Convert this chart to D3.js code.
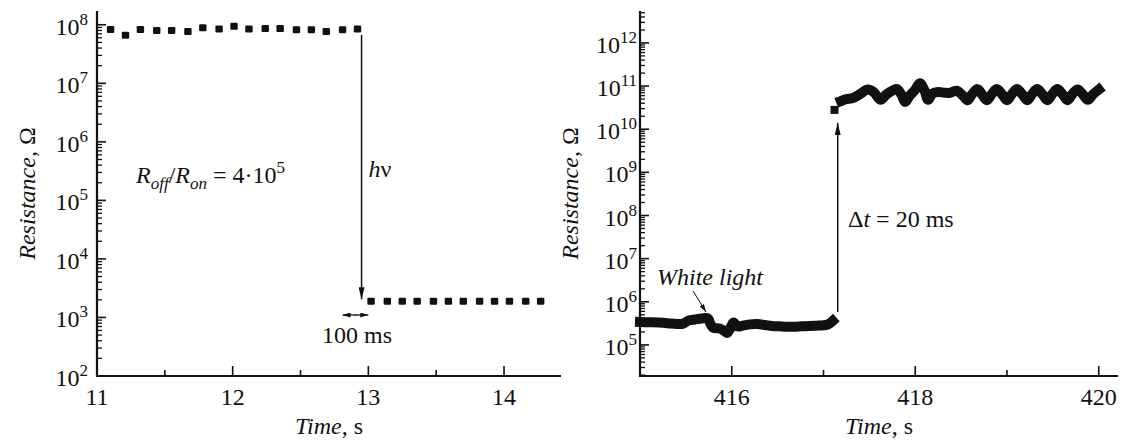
<!DOCTYPE html>
<html>
<head>
<meta charset="utf-8">
<script src="https://cdn.jsdelivr.net/npm/d3@7"></script>
<style>
  body { margin: 0; background: #fff; }
</style>
</head>
<body>
<svg id="canvas" width="1127" height="444"></svg>
<script>
// left panel: light on, resistance drops
let leftUpperT=[11.10,11.21,11.32,11.44,11.55,11.67,11.78,11.90,12.01,12.12,12.24,12.35,12.47,12.58,12.69,12.81,12.92]
let leftUpperR=[8.3e7,6.6e7,8.3e7,8.0e7,8.0e7,7.7e7,8.9e7,8.5e7,9.4e7,8.5e7,8.6e7,8.6e7,8.2e7,8.2e7,7.7e7,8.2e7,8.5e7]
let leftLowerT=[13.02,13.14,13.25,13.36,13.48,13.59,13.70,13.82,13.93,14.04,14.16,14.27]
let leftLowerR=[1.9e3,1.9e3,1.9e3,1.9e3,1.9e3,1.9e3,1.9e3,1.9e3,1.9e3,1.9e3,1.9e3,1.9e3]
let leftXTicks=[11,12,13,14]
let leftXMinor=[11.5,12.5,13.5]
let leftYExp=[2,3,4,5,6,7,8]

// right panel: light off, resistance jumps back
let rightLowT=[415.00,415.10,415.20,415.30,415.40,415.47,415.53,415.60,415.67,415.74,415.77,415.80,415.87,415.92,415.95,415.99,416.02,416.06,416.12,416.20,416.28,416.36,416.44,416.52,416.60,416.68,416.76,416.84,416.92,417.00,417.05,417.10]
let rightLowR=[3.4e5,3.35e5,3.3e5,3.2e5,3.05e5,3.1e5,3.7e5,3.9e5,4.1e5,4.1e5,3.0e5,2.5e5,2.4e5,2.1e5,1.9e5,2.6e5,3.3e5,2.7e5,2.8e5,3.0e5,3.05e5,2.9e5,2.75e5,2.7e5,2.65e5,2.65e5,2.7e5,2.75e5,2.8e5,2.85e5,3.0e5,3.6e5]
let rightJumpT=[417.12]
let rightJumpR=[2.8e10]
let rightHighT=[417.19,417.25,417.31,417.37,417.42,417.48,417.55,417.62,417.69,417.76,417.80,417.85,417.89,417.94,418.00,418.05,418.10,418.14,418.19,418.25,418.32,418.38,418.45,418.52,418.57,418.62,418.68,418.73,418.78,418.84,418.89,418.95,419.00,419.06,419.11,419.17,419.22,419.28,419.33,419.39,419.44,419.50,419.55,419.61,419.66,419.72,419.77,419.83,419.88,419.94,420.00]
let rightHighR=[4.5e10,5.0e10,5.2e10,6.0e10,7.0e10,8.3e10,7.2e10,4.8e10,6.5e10,8.0e10,8.5e10,6.3e10,4.3e10,6.0e10,8.3e10,1.17e11,8.0e10,4.8e10,6.8e10,7.3e10,7.0e10,7.0e10,7.8e10,6.0e10,4.7e10,6.5e10,8.5e10,6.3e10,4.7e10,6.8e10,8.5e10,6.3e10,4.7e10,6.8e10,8.5e10,6.3e10,4.7e10,6.8e10,8.5e10,6.3e10,4.7e10,6.8e10,8.5e10,6.3e10,4.7e10,6.8e10,8.3e10,6.3e10,4.8e10,6.5e10,8.3e10]
let rightXTicks=[416,418,420]
let rightXMinor=[417,419]
let rightYExp=[5,6,7,8,9,10,11,12]

let svg=d3.select('#canvas')
  .attr('font-family','"Liberation Serif", "Times New Roman", "DejaVu Serif", serif')

svg.append('defs').append('marker')
  .attr('id','head').attr('viewBox','0 0 12 6').attr('refX',12).attr('refY',3)
  .attr('markerWidth',12).attr('markerHeight',6).attr('markerUnits','userSpaceOnUse')
  .attr('orient','auto')
  .append('path').attr('d','M0,0 L12,3 L0,6 Z').attr('fill','#111')
svg.select('defs').append('marker')
  .attr('id','smallhead').attr('viewBox','0 0 8 5').attr('refX',8).attr('refY',2.5)
  .attr('markerWidth',8).attr('markerHeight',5).attr('markerUnits','userSpaceOnUse')
  .attr('orient','auto')
  .append('path').attr('d','M0,0 L8,2.5 L0,5 Z').attr('fill','#111')

let plotTop=11, plotBottom=376
let fs=24, fsSmall=17

let drawFrame=(x,y,exps,majors,minors,labelGap,titleX)=>{
  let x0=x.range()[0], x1=x.range()[1]
  let g=svg.append('g').attr('fill','#111')
  // minor log ticks
  let [lo,hi]=y.domain()
  let minorVals=[]
  for(let e=Math.floor(Math.log10(lo));e<=Math.ceil(Math.log10(hi));e++){
    for(let m=2;m<=9;m++){
      let v=m*Math.pow(10,e)
      if(v>=lo && v<=hi) minorVals.push(v)
    }
  }
  g.selectAll('.ymin').data(minorVals).enter().append('line')
    .attr('x1',x0).attr('x2',x0+5).attr('y1',d=>y(d)).attr('y2',d=>y(d))
    .attr('stroke','#111').attr('stroke-width',1.3)
  g.selectAll('.ymaj').data(exps).enter().append('line')
    .attr('x1',x0).attr('x2',x0+9).attr('y1',d=>y(Math.pow(10,d))).attr('y2',d=>y(Math.pow(10,d)))
    .attr('stroke','#111').attr('stroke-width',1.6)
  let lab=g.selectAll('.ylab').data(exps).enter().append('text')
    .attr('x',x0-labelGap).attr('y',d=>y(Math.pow(10,d))+10)
    .attr('text-anchor','end').attr('font-size',fs)
  lab.append('tspan').text('10')
  lab.append('tspan').attr('dy',-10).attr('font-size',fsSmall).text(d=>d)

  g.selectAll('.xmaj').data(majors).enter().append('line')
    .attr('x1',d=>x(d)).attr('x2',d=>x(d)).attr('y1',plotBottom).attr('y2',plotBottom-10)
    .attr('stroke','#111').attr('stroke-width',1.6)
  g.selectAll('.xmin').data(minors).enter().append('line')
    .attr('x1',d=>x(d)).attr('x2',d=>x(d)).attr('y1',plotBottom).attr('y2',plotBottom-6)
    .attr('stroke','#111').attr('stroke-width',1.6)
  g.selectAll('.xlab').data(majors).enter().append('text')
    .attr('x',d=>x(d)).attr('y',405).attr('text-anchor','middle').attr('font-size',fs)
    .text(d=>d)

  g.append('path').attr('d',`M${x0},${plotTop} V${plotBottom} H${x1}`)
    .attr('fill','none').attr('stroke','#111').attr('stroke-width',2.2)

  let t=g.append('text').attr('x',(x0+x1)/2).attr('y',434).attr('text-anchor','middle').attr('font-size',fs)
  t.append('tspan').attr('font-style','italic').text('Time')
  t.append('tspan').text(', s')

  let r=g.append('text').attr('transform',`translate(${titleX},${(plotTop+plotBottom)/2}) rotate(-90)`)
    .attr('text-anchor','middle').attr('font-size',fs)
  r.append('tspan').attr('font-style','italic').text('Resistance')
  r.append('tspan').text(', Ω')
}

// ---------- left panel ----------
let xL=d3.scaleLinear().domain([11,14.42]).range([97,561])
let yL=d3.scaleLog().domain([1e2,Math.pow(10,8.235)]).range([plotBottom,plotTop])
drawFrame(xL,yL,leftYExp,leftXTicks,leftXMinor,9,35)

let leftPts=leftUpperT.map((t,i)=>[t,leftUpperR[i]]).concat(leftLowerT.map((t,i)=>[t,leftLowerR[i]]))
svg.append('g').selectAll('rect').data(leftPts).enter().append('rect')
  .attr('x',d=>xL(d[0])-3.7).attr('y',d=>yL(d[1])-3.5)
  .attr('width',7.4).attr('height',7).attr('rx',1.2)
  .attr('fill','#111')

// hv arrow
svg.append('line').attr('x1',xL(12.95)).attr('x2',xL(12.95))
  .attr('y1',yL(leftUpperR[16])+6).attr('y2',yL(leftLowerR[0])-2)
  .attr('stroke','#111').attr('stroke-width',1.5).attr('marker-end','url(#head)')
// 100 ms double arrow
svg.append('line').attr('x1',xL(12.91)).attr('x2',xL(12.81))
  .attr('y1',315).attr('y2',315).attr('stroke','#111').attr('stroke-width',1.3).attr('marker-end','url(#smallhead)')
svg.append('line').attr('x1',xL(12.90)).attr('x2',xL(13.0))
  .attr('y1',315).attr('y2',315).attr('stroke','#111').attr('stroke-width',1.3).attr('marker-end','url(#smallhead)')

let note=svg.append('g').attr('fill','#111')
note.append('text').attr('x',357).attr('y',343).attr('text-anchor','middle').attr('font-size',fs).text('100 ms')

let hv=note.append('text').attr('x',xL(12.95)+7).attr('y',177).attr('font-size',fs)
hv.append('tspan').attr('font-style','italic').text('h')
hv.append('tspan').text('ν')

let ratio=note.append('text').attr('x',136).attr('y',183).attr('font-size',fs)
ratio.append('tspan').attr('font-style','italic').text('R')
ratio.append('tspan').attr('font-style','italic').attr('font-size',fsSmall).attr('dy',6).text('off')
ratio.append('tspan').attr('dy',-6).text('/')
ratio.append('tspan').attr('font-style','italic').text('R')
ratio.append('tspan').attr('font-style','italic').attr('font-size',fsSmall).attr('dy',6).text('on')
ratio.append('tspan').attr('dy',-6).text(' = 4·10')
ratio.append('tspan').attr('font-size',fsSmall).attr('dy',-10).text('5')

// ---------- right panel ----------
let xR=d3.scaleLinear().domain([415,420.21]).range([640,1118])
let yR=d3.scaleLog().domain([Math.pow(10,4.28),Math.pow(10,12.74)]).range([plotBottom,plotTop])
drawFrame(xR,yR,rightYExp,rightXTicks,rightXMinor,3,578)

let line=d3.line().x(d=>xR(d[0])).y(d=>yR(d[1])).curve(d3.curveCatmullRom)
let bands=[rightLowT.map((t,i)=>[t,rightLowR[i]]),rightHighT.map((t,i)=>[t,rightHighR[i]])]
svg.append('g').selectAll('path').data(bands).enter().append('path')
  .attr('d',line).attr('fill','none').attr('stroke','#111')
  .attr('stroke-width',10).attr('stroke-linejoin','round').attr('stroke-linecap','square')

svg.append('g').selectAll('rect').data(rightJumpT.map((t,i)=>[t,rightJumpR[i]])).enter().append('rect')
  .attr('x',d=>xR(d[0])-4).attr('y',d=>yR(d[1])-4).attr('width',8).attr('height',8).attr('fill','#111')

// delta t arrow
svg.append('line').attr('x1',xR(417.155)).attr('x2',xR(417.155))
  .attr('y1',312).attr('y2',yR(rightJumpR[0])+13)
  .attr('stroke','#111').attr('stroke-width',1.5).attr('marker-end','url(#head)')

let dt=note.append('text').attr('x',848).attr('y',227).attr('font-size',fs)
dt.append('tspan').text('Δ')
dt.append('tspan').attr('font-style','italic').text('t')
dt.append('tspan').text(' = 20 ms')

note.append('text').attr('x',657).attr('y',285).attr('font-size',fs).attr('font-style','italic').text('White light')
svg.append('line').attr('x1',693).attr('y1',291).attr('x2',706).attr('y2',312)
  .attr('stroke','#111').attr('stroke-width',1).attr('marker-end','url(#smallhead)')
</script>
</body>
</html>
